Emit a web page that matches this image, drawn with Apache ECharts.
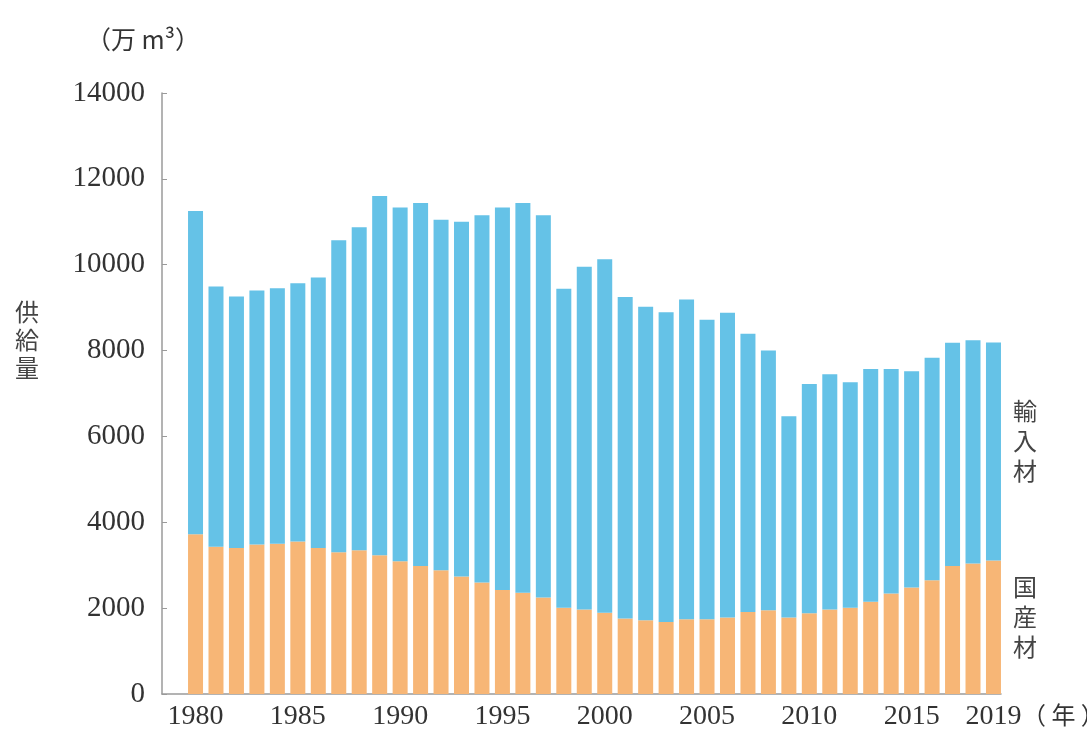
<!DOCTYPE html>
<html>
<head>
    <meta charset="utf-8" />
    <title>木材供給量</title>
    <script src="https://cdn.jsdelivr.net/npm/echarts@6/dist/echarts.min.js"></script>
    <style>
        html, body { margin: 0; padding: 0; background: #fff; }
    </style>
</head>
<body>
    <div id="main" style="width: 1087px;height:743px;"></div>
    <script type="text/javascript">
        // 年 1980-2019
        let years = [];
        for (let y = 1980; y <= 2019; y++) years.push(String(y));

        // 国産材 (万m3)
        let domestic = [3720, 3430, 3400, 3480, 3500, 3550, 3400, 3300, 3350, 3230,
            3090, 2980, 2880, 2740, 2600, 2420, 2360, 2250, 2010, 1970,
            1890, 1760, 1720, 1680, 1740, 1740, 1780, 1910, 1950, 1780,
            1880, 1970, 2010, 2150, 2340, 2480, 2650, 2980, 3040, 3110];

        // 合計 (万m3)
        let total = [11250, 9490, 9260, 9400, 9450, 9570, 9700, 10570, 10870, 11600,
            11330, 11440, 11050, 11000, 11150, 11330, 11440, 11150, 9440, 9950,
            10130, 9250, 9020, 8890, 9190, 8720, 8880, 8390, 8000, 6470,
            7220, 7450, 7260, 7570, 7570, 7520, 7830, 8180, 8240, 8190];

        // 輸入材 = 合計 - 国産材
        let imported = total.map((v, i) => v - domestic[i]);

        // x軸に表示する年
        let yearLabels = ['1980', '1985', '1990', '1995', '2000', '2005', '2010', '2015', '2019'];

        let serif = '"Liberation Serif", "DejaVu Serif", serif';
        let cjk = '"Noto Sans CJK JP", sans-serif';
        let axisColor = '#9a9a9a';

        let myChart = echarts.init(document.getElementById('main'));

        let option = {
            animation: false,
            grid: [
                // 棒グラフ用
                { left: 185.3, right: 83.3, top: 93, bottom: 49 },
                // 軸線用（y軸と棒の間に余白がある）
                { left: 162, right: 86, top: 93, bottom: 49 }
            ],
            xAxis: [
                {
                    gridIndex: 0,
                    type: 'category',
                    data: years,
                    axisLine: { show: false },
                    axisTick: { show: false },
                    axisLabel: {
                        interval: (i, v) => yearLabels.indexOf(v) >= 0,
                        color: '#333',
                        fontFamily: serif,
                        fontSize: 28,
                        margin: 9
                    }
                },
                {
                    gridIndex: 1,
                    type: 'value',
                    min: 0,
                    max: 1,
                    splitLine: { show: false },
                    axisTick: { show: false },
                    axisLabel: { show: false },
                    axisLine: { show: true, lineStyle: { color: axisColor, width: 1.5 } }
                }
            ],
            yAxis: [
                {
                    gridIndex: 0,
                    type: 'value',
                    min: 0,
                    max: 14000,
                    show: false
                },
                {
                    gridIndex: 1,
                    type: 'value',
                    min: 0,
                    max: 14000,
                    interval: 2000,
                    splitLine: { show: false },
                    axisLine: { show: true, lineStyle: { color: axisColor, width: 1.5 } },
                    axisTick: { show: true, inside: true, length: 5, lineStyle: { color: axisColor } },
                    axisLabel: {
                        formatter: v => String(v),
                        color: '#333',
                        fontFamily: serif,
                        fontSize: 29,
                        margin: 17
                    }
                }
            ],
            series: [
                {
                    name: '国産材',
                    type: 'bar',
                    stack: 'supply',
                    xAxisIndex: 0,
                    yAxisIndex: 0,
                    barWidth: 15,
                    itemStyle: { color: '#f7b676' },
                    data: domestic
                },
                {
                    name: '輸入材',
                    type: 'bar',
                    stack: 'supply',
                    xAxisIndex: 0,
                    yAxisIndex: 0,
                    barWidth: 15,
                    itemStyle: { color: '#65c2e7' },
                    data: imported
                }
            ],
            graphic: [
                {
                    type: 'text', left: 86, top: 27,
                    style: { text: '（万 m³）', fontFamily: cjk, fontSize: 25, fill: '#333' }
                },
                {
                    type: 'text', left: 15, top: 298,
                    style: { text: '供\n給\n量', fontFamily: cjk, fontSize: 24, lineHeight: 28, fill: '#444' }
                },
                {
                    type: 'text', left: 1013, top: 396,
                    style: { text: '輸\n入\n材', fontFamily: cjk, fontSize: 24, lineHeight: 30, fill: '#444' }
                },
                {
                    type: 'text', left: 1013, top: 572,
                    style: { text: '国\n産\n材', fontFamily: cjk, fontSize: 24, lineHeight: 30, fill: '#444' }
                },
                {
                    type: 'text', left: 1022, top: 703,
                    style: { text: '（ 年 ）', fontFamily: cjk, fontSize: 24, fill: '#333' }
                }
            ]
        };

        myChart.setOption(option);
    </script>
</body>
</html>
